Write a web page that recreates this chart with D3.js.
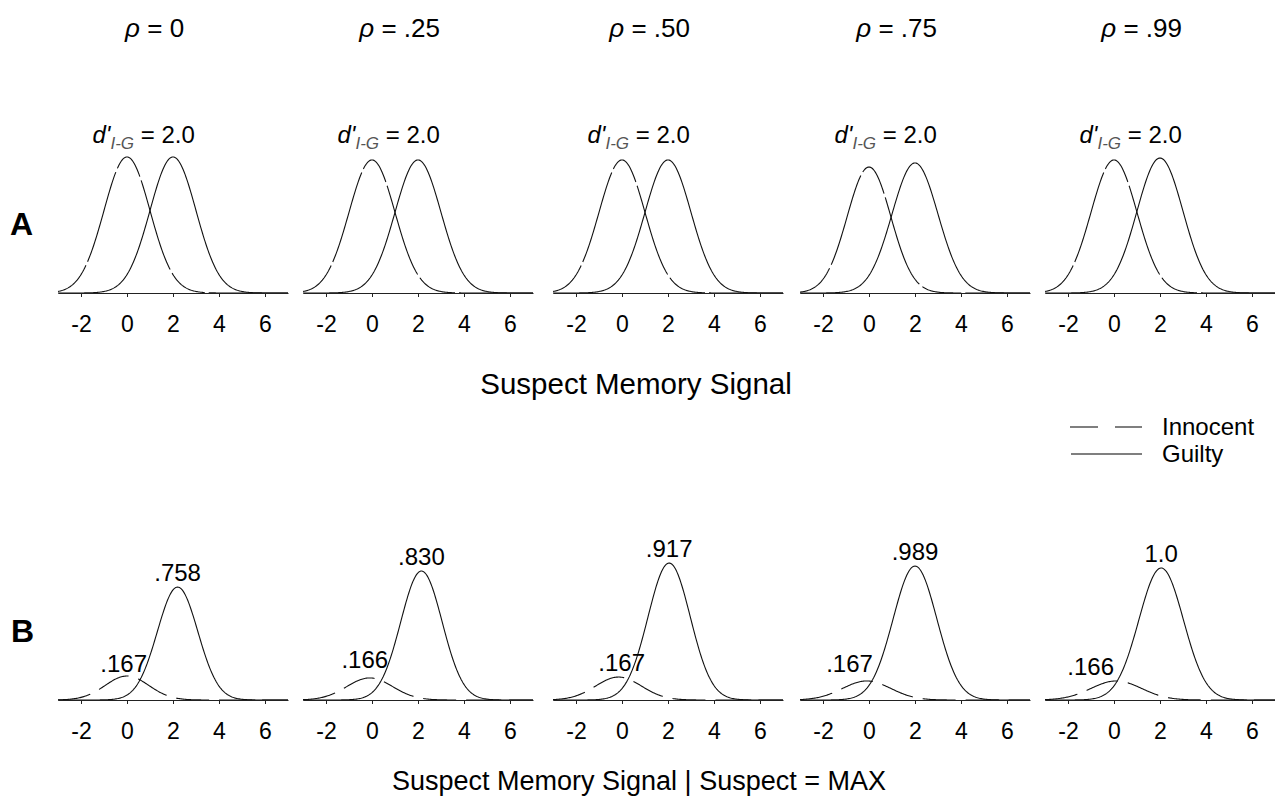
<!DOCTYPE html>
<html>
<head>
<meta charset="utf-8">
<script src="https://cdn.jsdelivr.net/npm/d3@7"></script>
<style>
  body { margin: 0; background: #fff; }
  text { font-family: "Liberation Sans", Arial, sans-serif; fill: #000; }
</style>
</head>
<body>
<svg id="chart" width="1275" height="807"></svg>
<script>
// values
var rhoLabels = ["0", ".25", ".50", ".75", ".99"];
var xTicks = [-2, 0, 2, 4, 6];
var dPrimeLabel = "2.0";

// panel A: innocent / guilty distributions (peak = fraction of curve box height)
var innocentMeanA = [0, 0, 0, 0, 0];
var innocentSdA = [1, 1, 1, 0.95, 1];
var innocentPeakA = [0.907, 0.887, 0.887, 0.84, 0.887];
var guiltyMeanA = [2, 2, 2, 2, 2];
var guiltySdA = [1, 1, 1, 1, 1];
var guiltyPeakA = [0.907, 0.887, 0.887, 0.867, 0.9];

// panel B: distributions given suspect = MAX
var guiltyMeanB = [2.2, 2.15, 2.05, 2.0, 2.05];
var guiltySdB = [0.88, 0.9, 0.92, 0.95, 0.97];
var guiltyPeakB = [0.753, 0.86, 0.913, 0.893, 0.88];
var guiltyLabelB = [".758", ".830", ".917", ".989", "1.0"];
var innocentMeanB = [0, -0.1, -0.15, -0.1, 0.1];
var innocentSdB = [0.95, 1, 1, 1.05, 1.1];
var innocentPeakB = [0.16, 0.147, 0.153, 0.127, 0.127];
var innocentLabelB = [".167", ".166", ".167", ".167", ".166"];

// layout
var panelLeft = [58, 303, 553, 800, 1045];
var panelWidth = 230;
var axisYA = 293, axisYB = 700, boxH = 150;
var innLabelEnd = [0.87, 0.7, 1.0, 0.17, 0.0];
var innLabelBase = [672, 668, 671, 672, 675];

var svg = d3.select("#chart");

var yA = d3.scaleLinear().domain([0, 1]).range([axisYA, axisYA - boxH]);
var yB = d3.scaleLinear().domain([0, 1]).range([axisYB, axisYB - boxH]);

var grid = d3.range(-3, 7.0001, 0.04);

function density(mu, sd, peak) {
  return grid.map(function (v) {
    return [v, peak * Math.exp(-0.5 * Math.pow((v - mu) / sd, 2))];
  });
}

function drawAxis(x, y0) {
  svg.append("g")
    .attr("transform", "translate(0," + y0 + ")")
    .call(d3.axisBottom(x).tickValues(xTicks).tickSize(4).tickSizeOuter(0)
      .tickFormat(function (d) { return String(d); }))
    .call(function (a) {
      a.attr("font-family", null).attr("font-size", null);
      a.selectAll("path, line").attr("stroke", "#222");
      a.selectAll("text").attr("y", 39).attr("dy", null)
        .attr("fill", "#000").style("font-size", "23px");
    });
}

function drawCurve(x, y, pts, dash, offset) {
  var line = d3.line()
    .x(function (d) { return x(d[0]); })
    .y(function (d) { return y(d[1]); });
  svg.append("path")
    .attr("d", line(pts))
    .attr("fill", "none")
    .attr("stroke", "#111")
    .attr("stroke-width", 1.1)
    .attr("stroke-dasharray", dash)
    .attr("stroke-dashoffset", offset || 0);
}

rhoLabels.forEach(function (rho, i) {
  var x = d3.scaleLinear().domain([-3, 7]).range([panelLeft[i], panelLeft[i] + panelWidth]);

  // column title
  var t = svg.append("text")
    .attr("x", x(1.2)).attr("y", 37)
    .attr("text-anchor", "middle")
    .style("font-size", "26px");
  t.append("tspan").attr("font-style", "italic").text("\u03c1");
  t.append("tspan").text(" = " + rho);

  // panel A
  var d = svg.append("text")
    .attr("x", x(-1.5)).attr("y", 143)
    .style("font-size", "24px");
  d.append("tspan").attr("font-style", "italic").text("d'");
  d.append("tspan").attr("font-style", "italic").attr("dy", 6)
    .style("font-size", "17px").attr("fill", "#555").text("I-G");
  d.append("tspan").attr("dy", -6).text(" = " + dPrimeLabel);

  drawCurve(x, yA, density(innocentMeanA[i], innocentSdA[i], innocentPeakA[i]), "94,4,40,4", 98);
  drawCurve(x, yA, density(guiltyMeanA[i], guiltySdA[i], guiltyPeakA[i]), null);
  drawAxis(x, axisYA);

  // panel B
  drawCurve(x, yB, density(innocentMeanB[i], innocentSdB[i], innocentPeakB[i]), "33,10", 0);
  drawCurve(x, yB, density(guiltyMeanB[i], guiltySdB[i], guiltyPeakB[i]), null);
  drawAxis(x, axisYB);

  svg.append("text")
    .attr("x", x(guiltyMeanB[i])).attr("y", yB(guiltyPeakB[i]) - 6)
    .attr("text-anchor", "middle")
    .style("font-size", "24px")
    .text(guiltyLabelB[i]);
  svg.append("text")
    .attr("x", x(innLabelEnd[i])).attr("y", innLabelBase[i])
    .attr("text-anchor", "end")
    .style("font-size", "24px")
    .text(innocentLabelB[i]);
});

// panel letters
svg.append("text").attr("x", 10).attr("y", 235)
  .style("font-size", "32px").style("font-weight", "bold").text("A");
svg.append("text").attr("x", 11).attr("y", 642)
  .style("font-size", "32px").style("font-weight", "bold").text("B");

// axis titles
svg.append("text").attr("x", 636).attr("y", 394)
  .attr("text-anchor", "middle").style("font-size", "29.5px")
  .text("Suspect Memory Signal");
svg.append("text").attr("x", 639).attr("y", 790)
  .attr("text-anchor", "middle").style("font-size", "27px")
  .text("Suspect Memory Signal | Suspect = MAX");

// legend
var legend = svg.append("g");
legend.append("line").attr("x1", 1070).attr("x2", 1142).attr("y1", 427).attr("y2", 427)
  .attr("stroke", "#000").attr("stroke-width", 1.2).attr("stroke-dasharray", "28,17");
legend.append("line").attr("x1", 1071).attr("x2", 1142).attr("y1", 454).attr("y2", 454)
  .attr("stroke", "#000").attr("stroke-width", 1.2);
legend.append("text").attr("x", 1162).attr("y", 435).style("font-size", "24px").text("Innocent");
legend.append("text").attr("x", 1162).attr("y", 462).style("font-size", "24px").text("Guilty");
</script>
</body>
</html>
